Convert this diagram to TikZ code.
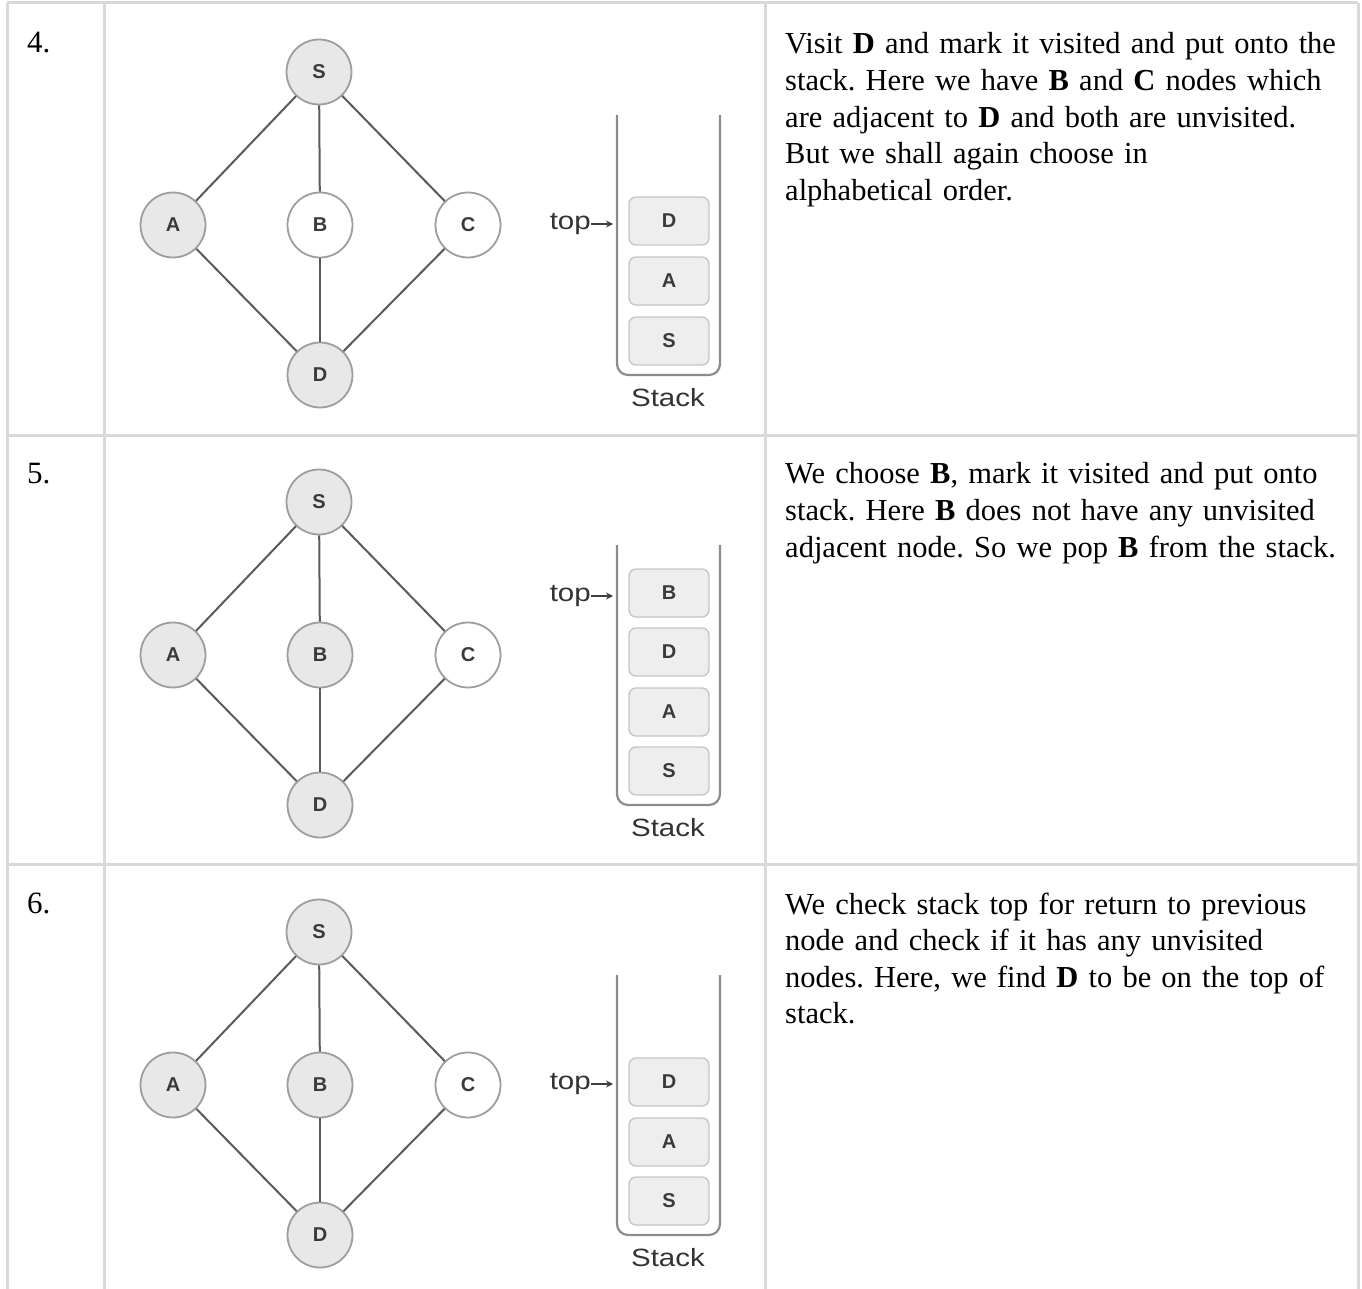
\documentclass[tikz,border=0pt]{standalone}
\usepackage{fontspec}
\setmainfont{Liberation Serif}
\newfontfamily\gsans{Liberation Sans}
\usetikzlibrary{arrows.meta}
\definecolor{gridgray}{HTML}{D9D9D9}
\definecolor{ringgray}{HTML}{9E9E9E}
\definecolor{seenfill}{HTML}{E8E8E8}
\definecolor{edgegray}{HTML}{5A5A5A}
\definecolor{labelgray}{HTML}{3A3A3A}
\definecolor{itemfill}{HTML}{EEEEEE}
\definecolor{itemborder}{HTML}{C6C6C6}
\definecolor{wallgray}{HTML}{8C8C8C}
\newcommand\mydescfont{\fontsize{30.5}{36.6}\selectfont\frenchspacing\spaceskip 10.2pt plus 1pt minus 1pt\relax}
\tikzset{
  gnode/.style={circle, minimum size=65pt, inner sep=0pt, draw=ringgray, line width=1.8pt,
    font=\gsans\bfseries\fontsize{20}{20}\selectfont, text=labelgray},
  seen/.style={gnode, fill=seenfill},
  fresh/.style={gnode, fill=white},
  gedge/.style={draw=edgegray, line width=2pt},
  item/.style={rounded corners=7pt, draw=itemborder, fill=itemfill, minimum width=80pt,
    minimum height=48pt, line width=1.4pt, font=\gsans\bfseries\fontsize{20}{20}\selectfont, text=labelgray},
  wall/.style={draw=wallgray, line width=2.2pt, rounded corners=11pt},
  gridline/.style={draw=gridgray, line width=3pt},
  desc/.style={anchor=north west, align=left, inner sep=0pt, font=\mydescfont},
  numlab/.style={anchor=base west, inner sep=0pt, font=\fontsize{31}{31}\selectfont},
  sanslab/.style={inner sep=0pt, font=\gsans\fontsize{25}{25}\selectfont, text=black!80, xscale=1.18},
  ptr/.style={draw=black!75, line width=1.6pt, -{Stealth[length=7pt,width=7pt]}},
}
% #1 = y of S, #2 = prefix, #3 = style of B
\newcommand\dfsgraph[3]{%
  \begin{scope}[shift={(0,#1)}, name prefix=#2]
    \node[seen] (S) at (319,0) {S};
    \node[seen] (A) at (173,153) {A};
    \node[#3] (B) at (320,153) {B};
    \node[fresh] (C) at (468,153) {C};
    \node[seen] (D) at (320,303) {D};
    \draw[gedge] (S) -- (A);
    \draw[gedge] (S) -- (B);
    \draw[gedge] (S) -- (C);
    \draw[gedge] (A) -- (D);
    \draw[gedge] (B) -- (D);
    \draw[gedge] (C) -- (D);
    \coordinate (wallTL) at (617,43);
    \coordinate (wallBL) at (617,303);
    \coordinate (wallBR) at (720,303);
    \coordinate (wallTR) at (720,43);
    \draw[wall] (wallTL) -- (wallBL) -- (wallBR) -- (wallTR);
    \node[sanslab] (stacklab) at (668,326) {Stack};
  \end{scope}}
\begin{document}
\begin{tikzpicture}[x=1pt,y=-1pt]
\useasboundingbox (0,0) rectangle (1362,1289);
% table grid
\coordinate (g1) at (7,3);
\coordinate (g2) at (1358,3);
\coordinate (g3) at (7,435);
\coordinate (g4) at (1358,435);
\coordinate (g5) at (7,864);
\coordinate (g6) at (1358,864);
\coordinate (c1t) at (7,3);
\coordinate (c1b) at (7,1289);
\coordinate (c2t) at (104,3);
\coordinate (c2b) at (104,1289);
\coordinate (c3t) at (765,3);
\coordinate (c3b) at (765,1289);
\coordinate (c4t) at (1358,3);
\coordinate (c4b) at (1358,1289);
\draw[gridline] (g1) -- (g2);
\draw[gridline] (g3) -- (g4);
\draw[gridline] (g5) -- (g6);
\draw[gridline] (c1t) -- (c1b);
\draw[gridline] (c2t) -- (c2b);
\draw[gridline] (c3t) -- (c3b);
\draw[gridline] (c4t) -- (c4b);

% ---------- row 4 ----------
\node[numlab] (n4) at (27,53) {4.};
\dfsgraph{72}{r4-}{fresh}
\node[item] (r4-iD) at (669,221) {D};
\node[item] (r4-iA) at (669,281) {A};
\node[item] (r4-iS) at (669,341) {S};
\node[sanslab, anchor=east] (r4-top) at (591,224) {top};
\coordinate (r4-tip) at (613,224);
\draw[ptr] (r4-top) -- (r4-tip);
\node[desc] (t4) at (785,32.5) {Visit \textbf{D} and mark it visited and put onto the\\
stack. Here we have \textbf{B} and \textbf{C} nodes which\\
are adjacent to \textbf{D} and both are unvisited.\\
But we shall again choose in\\
alphabetical order.};

% ---------- row 5 ----------
\node[numlab] (n5) at (27,483) {5.};
\dfsgraph{502}{r5-}{seen}
\node[item] (r5-iB) at (669,593) {B};
\node[item] (r5-iD) at (669,652) {D};
\node[item] (r5-iA) at (669,712) {A};
\node[item] (r5-iS) at (669,771) {S};
\node[sanslab, anchor=east] (r5-top) at (591,596) {top};
\coordinate (r5-tip) at (613,596);
\draw[ptr] (r5-top) -- (r5-tip);
\node[desc] (t5) at (785,462.5) {We choose \textbf{B}, mark it visited and put onto\\
stack. Here \textbf{B} does not have any unvisited\\
adjacent node. So we pop \textbf{B} from the stack.};

% ---------- row 6 ----------
\node[numlab] (n6) at (27,913) {6.};
\dfsgraph{932}{r6-}{seen}
\node[item] (r6-iD) at (669,1082) {D};
\node[item] (r6-iA) at (669,1142) {A};
\node[item] (r6-iS) at (669,1201) {S};
\node[sanslab, anchor=east] (r6-top) at (591,1084) {top};
\coordinate (r6-tip) at (613,1084);
\draw[ptr] (r6-top) -- (r6-tip);
\node[desc] (t6) at (785,892.5) {We check stack top for return to previous\\
node and check if it has any unvisited\\
nodes. Here, we find \textbf{D} to be on the top of\\
stack.};
\end{tikzpicture}
\end{document}
